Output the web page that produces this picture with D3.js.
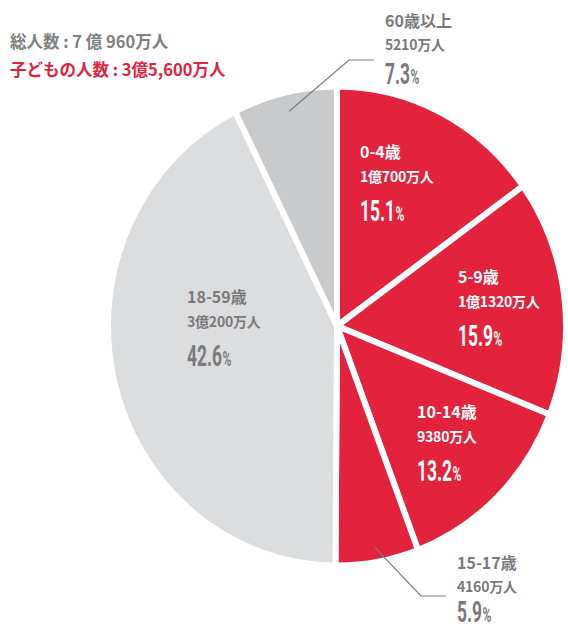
<!DOCTYPE html>
<html>
<head>
<meta charset="utf-8">
<script src="https://cdn.jsdelivr.net/npm/d3@7"></script>
<style>
  html, body { margin: 0; padding: 0; background: #fff; }
  #chart { width: 568px; height: 631px; }
  text { font-family: "Noto Sans CJK JP", "Noto Sans", sans-serif; font-weight: 700; }
</style>
</head>
<body>
<div id="chart"></div>
<script>
// Population by age group (万人)
const ageGroups = ['0-4歳', '5-9歳', '10-14歳', '15-17歳', '18-59歳', '60歳以上'];
const populations = [10700, 11320, 9380, 4160, 30200, 5210];
const popLabels = ['1億700万人', '1億1320万人', '9380万人', '4160万人', '3億200万人', '5210万人'];
const percentLabels = ['15.1', '15.9', '13.2', '5.9', '42.6', '7.3'];
const childGroups = ['0-4歳', '5-9歳', '10-14歳', '15-17歳'];
const titleLines = ['総人数 : 7 億 960万人', '子どもの人数 : 3億5,600万人'];

const RED = '#e3223e';
const GREY_TEXT = '#7a7a7a';

const width = 568, height = 631;
const cx = 337, cy = 326;
const radius = 229;
const squash = 1.046; // the reference pie is a little taller than wide

// label block positions relative to the pie centre (name baseline)
const labelPos = {
  '0-4歳':   { x: 23,   y: -168, inside: true },
  '5-9歳':   { x: 121,  y: -43,  inside: true },
  '10-14歳': { x: 80,   y: 92,   inside: true },
  '15-17歳': { x: 120,  y: 243,  inside: false, elbow: 27, from: 0.94, pctDy: 53 },
  '18-59歳': { x: -150, y: -23,  inside: true },
  '60歳以上': { x: 48,   y: -299, inside: false, elbow: 33, from: 0.92, pctDy: 57 }
};

const svg = d3.select('#chart').append('svg')
  .attr('width', width)
  .attr('height', height);

// Titles
svg.selectAll('.title')
  .data(titleLines)
  .join('text')
    .attr('class', 'title')
    .attr('x', 10)
    .attr('y', (d, i) => 48 + i * 28)
    .attr('font-size', 16.5)
    .attr('fill', (d, i) => i === 0 ? '#808080' : RED)
    .text(d => d);

const color = d3.scaleOrdinal()
  .domain(ageGroups)
  .range([RED, RED, RED, RED, '#dcdddf', '#c9cacc']);

const data = ageGroups.map((g, i) => ({
  group: g, value: populations[i], pop: popLabels[i], pct: percentLabels[i]
}));

const pie = d3.pie().sort(null).value(d => d.value);
const arcs = pie(data);
const arc = d3.arc().innerRadius(0).outerRadius(radius);

const pieG = svg.append('g')
  .attr('transform', `translate(${cx},${cy}) scale(1,${squash})`);

pieG.selectAll('path')
  .data(arcs)
  .join('path')
    .attr('d', arc)
    .attr('fill', d => color(d.data.group))
    .attr('stroke', '#fff')
    .attr('stroke-width', 6)
    .attr('stroke-linejoin', 'miter')
    .attr('vector-effect', 'non-scaling-stroke');

// Leader lines for the small outside labels
const labelG = svg.append('g').attr('transform', `translate(${cx},${cy})`);

arcs.filter(d => !labelPos[d.data.group].inside).forEach(d => {
  const p = labelPos[d.data.group];
  const mid = (d.startAngle + d.endAngle) / 2;
  const r = radius * p.from;
  const sx = Math.sin(mid) * r;
  const sy = -Math.cos(mid) * r * squash;
  const ey = p.y + p.elbow;
  const ex = p.x - 11;
  labelG.append('path')
    .attr('d', d3.line()([[sx, sy], [ex - 25, ey], [ex, ey]]))
    .attr('fill', 'none')
    .attr('stroke', '#7d7d7d')
    .attr('stroke-width', 1.2);
});

// Slice labels
arcs.forEach(d => {
  const p = labelPos[d.data.group];
  const isChild = childGroups.includes(d.data.group);
  const fill = isChild && p.inside ? '#fff' : GREY_TEXT;
  const subDy = p.inside ? 24 : 23;
  const pctDy = p.inside ? 63 : p.pctDy;
  const g = labelG.append('g').attr('fill', fill);

  g.append('text')
    .attr('x', p.x).attr('y', p.y)
    .attr('font-size', 16)
    .text(d.data.group);

  g.append('text')
    .attr('x', p.x).attr('y', p.y + subDy)
    .attr('font-size', 14)
    .attr('letter-spacing', -0.2)
    .text(d.data.pop);

  const pct = g.append('text')
    .attr('transform', `translate(${p.x},${p.y + pctDy}) scale(0.6,1)`)
    .style('font-family', 'Roboto, "Liberation Sans", sans-serif');
  pct.append('tspan').attr('font-size', 29).text(d.data.pct);
  pct.append('tspan').attr('font-size', 20).attr('dx', 1).text('%');
});
</script>
</body>
</html>
